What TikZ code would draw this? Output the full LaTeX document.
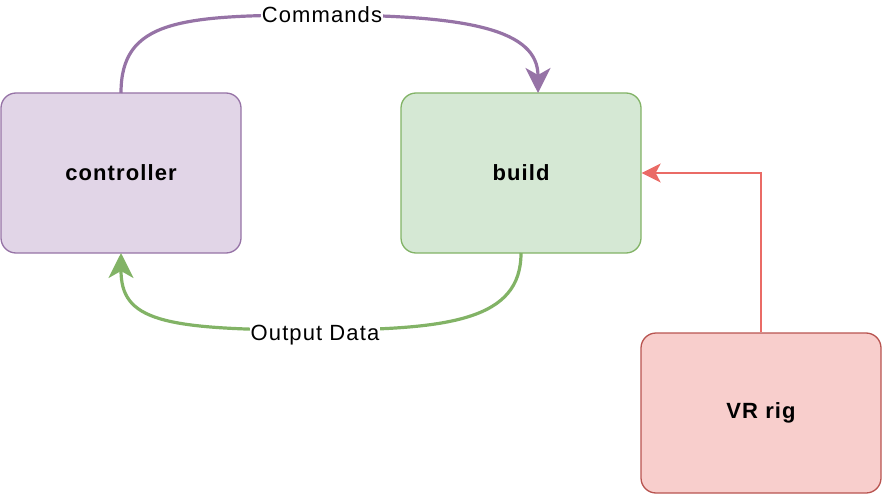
\documentclass[tikz,border=0pt]{standalone}
\usepackage{fontspec}
\setmainfont[LetterSpace=5]{Liberation Sans}
\usetikzlibrary{arrows.meta}
\definecolor{cfill}{HTML}{E1D5E7}\definecolor{cdraw}{HTML}{9673A6}
\definecolor{bfill}{HTML}{D5E8D4}\definecolor{bdraw}{HTML}{82B366}
\definecolor{vfill}{HTML}{F8CECC}\definecolor{vdraw}{HTML}{B85450}
\definecolor{redline}{HTML}{EA6B66}
\begin{document}
\begin{tikzpicture}[x=1pt,y=-1pt,
  box/.style={rounded corners=15pt,minimum width=240pt,minimum height=160pt,line width=1.3pt,font=\fontsize{22}{25}\selectfont\bfseries,inner sep=0pt},
  lbl/.style={fill=white,inner sep=1pt,font=\fontsize{22}{25}\selectfont},
  tipc/.style={-{Stealth[length=25pt,width=25pt,inset=7pt]}}]
\useasboundingbox (0,0) rectangle (882,494);
\node[box,draw=cdraw,fill=cfill] (ctrl) at (121,173) {controller};
\node[box,draw=bdraw,fill=bfill] (build) at (521,173) {build};
\node[box,draw=vdraw,fill=vfill] (vr) at (761,413) {VR rig};
\coordinate (c1) at (121,93);
\coordinate (c2) at (538,93);
\draw[tipc,draw=cdraw,line width=3.2pt] (c1) .. controls (121,20) and (180,15) .. (322,15) .. controls (470,15) and (538,30) .. (c2);
\node[lbl] (cmd) at (322,15) {Commands};
\coordinate (o1) at (521,253);
\coordinate (o2) at (121,253);
\draw[tipc,draw=bdraw,line width=3.2pt] (o1) .. controls (521,320) and (450,330) .. (315,330) .. controls (160,330) and (121,320) .. (o2);
\node[lbl] (out) at (315,335) {Output Data};
\draw[draw=redline,line width=2pt,-{Stealth[length=19pt,width=19pt,inset=5pt]}] (vr.north) |- (build.east);
\end{tikzpicture}
\end{document}
